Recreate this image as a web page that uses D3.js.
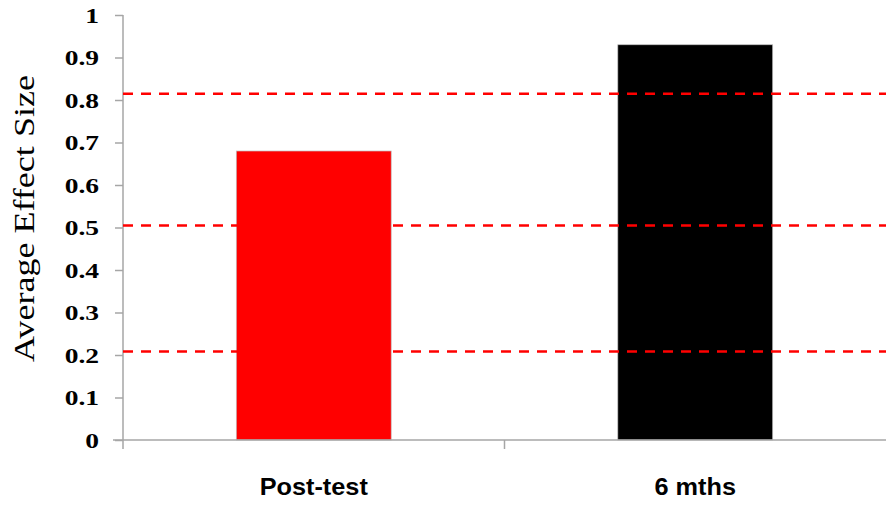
<!DOCTYPE html>
<html><head><meta charset="utf-8">
<script src="https://cdn.jsdelivr.net/npm/d3@7"></script>
<style>html,body{margin:0;padding:0;background:#fff;}svg{display:block;}</style>
</head><body>
<svg id="chart" width="886" height="505"></svg>
<script>
const categories = ["Post-test", "6 mths"];
const values = [0.68, 0.93];
const barColors = ["#ff0000", "#000000"];
const thresholds = [0.815, 0.505, 0.208];
const yTicks = [0, 0.1, 0.2, 0.3, 0.4, 0.5, 0.6, 0.7, 0.8, 0.9, 1];
const yTickLabels = ["0", "0.1", "0.2", "0.3", "0.4", "0.5", "0.6", "0.7", "0.8", "0.9", "1"];
const yTitle = "Average Effect Size";

const svg = d3.select("#chart");
const mLeft = 123, mRight = 886, mTop = 15, mBottom = 440;
const y = d3.scaleLinear().domain([0, 1]).range([mBottom, mTop]);
const x = d3.scaleBand().domain(categories).range([mLeft, mRight]).padding(0);
const barW = x.bandwidth() * 0.406;
const axisColor = "#a6a6a6";
const stretch = 1.25;

// bars
svg.selectAll("rect.bar").data(values).join("rect")
  .attr("class", "bar")
  .attr("x", (d, i) => x(categories[i]) + x.bandwidth() / 2 - barW / 2)
  .attr("y", d => y(d))
  .attr("width", barW)
  .attr("height", d => y(0) - y(d))
  .attr("fill", (d, i) => barColors[i])
  .attr("stroke", "#bfbfbf").attr("stroke-width", 0.7);

// y axis
const yAxis = d3.axisLeft(y).tickValues(yTicks).tickFormat((d, i) => yTickLabels[i]).tickSize(8).tickPadding(16);
const gy = svg.append("g").attr("transform", `translate(${mLeft},0)`).call(yAxis);
gy.attr("font-family", null);
gy.select(".domain").attr("stroke", axisColor).attr("stroke-width", 1.5).attr("d", `M0,${mTop}V${mBottom}`);
gy.selectAll(".tick line").attr("stroke", axisColor).attr("stroke-width", 1.5);
gy.selectAll(".tick text")
  .style("font-family", "'Liberation Serif', 'Times New Roman', serif")
  .style("font-weight", "bold").style("font-size", "22px").attr("fill", "#000")
  .attr("dy", "0.34em")
  .attr("x", -24 / stretch)
  .attr("transform", `scale(${stretch},1)`);

// x axis
const xAxis = d3.axisBottom(x).tickSize(0).tickPadding(0);
const gx = svg.append("g").attr("transform", `translate(0,${mBottom})`).call(xAxis);
gx.attr("font-family", null);
gx.select(".domain").attr("stroke", axisColor).attr("stroke-width", 1.5).attr("d", `M${mLeft - 10},0H${mRight}`);
gx.selectAll(".tick text")
  .style("font-family", "'Liberation Sans', Arial, sans-serif")
  .style("font-weight", "bold").style("font-size", "23px").attr("fill", "#000")
  .attr("y", 55).attr("dy", 0)
  .attr("transform", "scale(1.1,1)");
// category separator ticks
const sepPos = [mLeft, x(categories[1])];
svg.selectAll("line.sep").data(sepPos).join("line")
  .attr("class", "sep")
  .attr("x1", d => d).attr("x2", d => d)
  .attr("y1", mBottom).attr("y2", mBottom + 9)
  .attr("stroke", axisColor).attr("stroke-width", 1.5);

// threshold dashed lines
svg.selectAll("line.thr").data(thresholds).join("line")
  .attr("class", "thr")
  .attr("x1", mLeft).attr("x2", mRight)
  .attr("y1", d => y(d)).attr("y2", d => y(d))
  .attr("stroke", "#ff0000").attr("stroke-width", 2.5)
  .attr("stroke-dasharray", "10,8");

// y title
svg.append("text")
  .attr("transform", `translate(34,${(75 + 362) / 2}) rotate(-90)`)
  .attr("text-anchor", "middle")
  .style("font-family", "'Liberation Serif', 'Times New Roman', serif")
  .style("font-size", "30px").attr("fill", "#000")
  .attr("textLength", 287).attr("lengthAdjust", "spacingAndGlyphs")
  .text(yTitle);
</script>
</body></html>
